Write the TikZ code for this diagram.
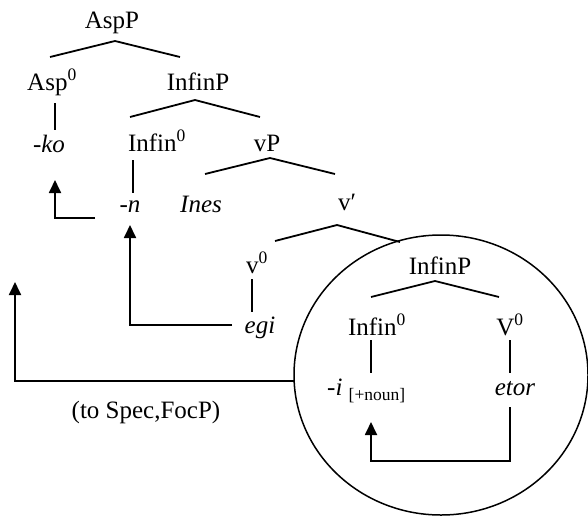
\documentclass[tikz,border=0pt]{standalone}
\usepackage{fontspec}
\setmainfont{Liberation Serif}
\usetikzlibrary{arrows.meta}
\newcommand{\zsup}{\textsuperscript{0}}
\begin{document}
\begin{tikzpicture}[x=1pt,y=-1pt,
  lbl/.style={anchor=base,inner sep=0pt,font=\fontsize{25}{30}\selectfont},
  br/.style={line width=1.8pt,line join=round},
  mv/.style={line width=1.8pt,-{Triangle[length=13pt,width=12pt]}},
  ring/.style={line width=1.5pt}]
\useasboundingbox (0,0) rectangle (588,517);
% nodes
\node[lbl] (aspp) at (112,28) {AspP};
\node[lbl] (asp0) at (52,90) {Asp\zsup};
\node[lbl] (infinp) at (198,90) {InfinP};
\node[lbl] (ko) at (49,152) {\itshape -ko};
\node[lbl] (infin0) at (157,151) {Infin\zsup};
\node[lbl] (vp) at (267,151) {vP};
\node[lbl] (n) at (130,212) {\itshape -n};
\node[lbl] (ines) at (201,212) {\itshape Ines};
\node[lbl] (vbar) at (347,210) {v′};
\node[lbl] (v0) at (257,273) {v\zsup};
\node[lbl] (egi) at (260,333) {\itshape egi};
\node[lbl] (cinfinp) at (440,274) {InfinP};
\node[lbl] (cinfin0) at (377,335) {Infin\zsup};
\node[lbl] (V0) at (510,335) {V\zsup};
\node[lbl,anchor=base west] (i) at (327,395) {\itshape -i\/\upshape\ \raisebox{-5pt}{\fontsize{17.5}{20}\selectfont[+noun]}};
\node[lbl] (etor) at (515,395) {\itshape etor};
\node[lbl] (spec) at (146,418) {(to Spec,FocP)};
% circle
\draw[ring] (441,375) ellipse [x radius=147pt, y radius=140pt];
% branch coordinates
\coordinate (a1) at (115,41); \coordinate (a1l) at (50,57); \coordinate (a1r) at (180,57);
\coordinate (a2) at (195,100); \coordinate (a2l) at (130,117); \coordinate (a2r) at (260,117);
\coordinate (a3) at (270,158); \coordinate (a3l) at (205,174); \coordinate (a3r) at (335,174);
\coordinate (a4) at (337,225); \coordinate (a4l) at (275,241); \coordinate (a4r) at (400,242);
\coordinate (a5) at (435,281); \coordinate (a5l) at (371,297); \coordinate (a5r) at (499,297);
\draw[br] (a1l) -- (a1) -- (a1r);
\draw[br] (a2l) -- (a2) -- (a2r);
\draw[br] (a3l) -- (a3) -- (a3r);
\draw[br] (a4l) -- (a4) -- (a4r);
\draw[br] (a5l) -- (a5) -- (a5r);
% unary lines
\draw[br] (55,103) -- (55,130);
\draw[br] (133,160) -- (133,193);
\draw[br] (252,279) -- (252,312);
\draw[br] (371,340) -- (371,373);
\draw[br] (510,340) -- (510,373);
% movement arrows
\coordinate (m1s) at (95,218); \coordinate (m1t) at (55,180);
\draw[mv] (m1s) -| (m1t);
\coordinate (m2s) at (232,325); \coordinate (m2t) at (130,225);
\draw[mv] (m2s) -| (m2t);
\coordinate (m3s) at (294,381); \coordinate (m3t) at (15,282);
\draw[mv] (m3s) -| (m3t);
\coordinate (m4s) at (510,407); \coordinate (m4c) at (510,461); \coordinate (m4t) at (371,422);
\draw[mv] (m4s) -- (m4c) -| (m4t);
\end{tikzpicture}
\end{document}
